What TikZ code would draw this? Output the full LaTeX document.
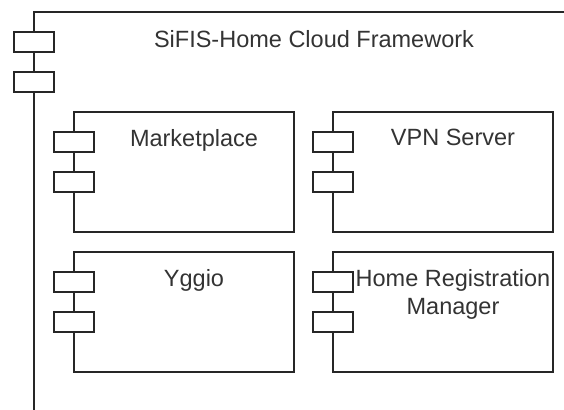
\documentclass[tikz,border=0pt]{standalone}
\usepackage{fontspec}
\setmainfont{Liberation Sans}
\usetikzlibrary{positioning}

\tikzset{
  comp/.style={draw=black!85, line width=1.3pt, rectangle, inner sep=0pt, outer sep=0pt,
    minimum width=220pt, minimum height=120pt},
  port/.style={draw=black!85, fill=white, line width=1.3pt, rectangle, inner sep=0pt, outer sep=0pt,
    minimum width=40pt, minimum height=20pt},
  comptext/.style={text=black!80, font=\fontsize{23.5}{28}\selectfont, align=center,
    inner sep=0pt, anchor=north},
}

\begin{document}
\begin{tikzpicture}[x=1pt, y=-1pt]
  \clip (0,0) rectangle (564,409);
  % Define nodes
  \node[comp, anchor=north west, minimum width=540pt, minimum height=440pt] (cloud) at (34,12) {};
  \node[comp, anchor=north west]  (mkt) at (74,112) {};
  \node[comp, right=39pt of mkt]  (vpn) {};
  \node[comp, below=20pt of mkt]  (ygg) {};
  \node[comp, right=39pt of ygg]  (hrm) {};
  % Define ports
  \foreach \c in {cloud, mkt, vpn, ygg, hrm} {
    \node[port] (\c-p1) at ([yshift=-30pt]\c.north west) {};
    \node[port] (\c-p2) at ([yshift=-70pt]\c.north west) {};
  }
  % Names
  \node[comptext] (cloud-n) at ([xshift=10pt, yshift=-18pt]cloud.north) {SiFIS-Home Cloud Framework};
  \node[comptext] (mkt-n) at ([xshift=10pt, yshift=-17pt]mkt.north) {Marketplace};
  \node[comptext] (vpn-n) at ([xshift=10pt, yshift=-17pt]vpn.north) {VPN Server};
  \node[comptext] (ygg-n) at ([xshift=10pt, yshift=-17pt]ygg.north) {Yggio};
  \node[comptext] (hrm-n) at ([xshift=10pt, yshift=-17pt]hrm.north) {Home Registration\\Manager};
\end{tikzpicture}
\end{document}
